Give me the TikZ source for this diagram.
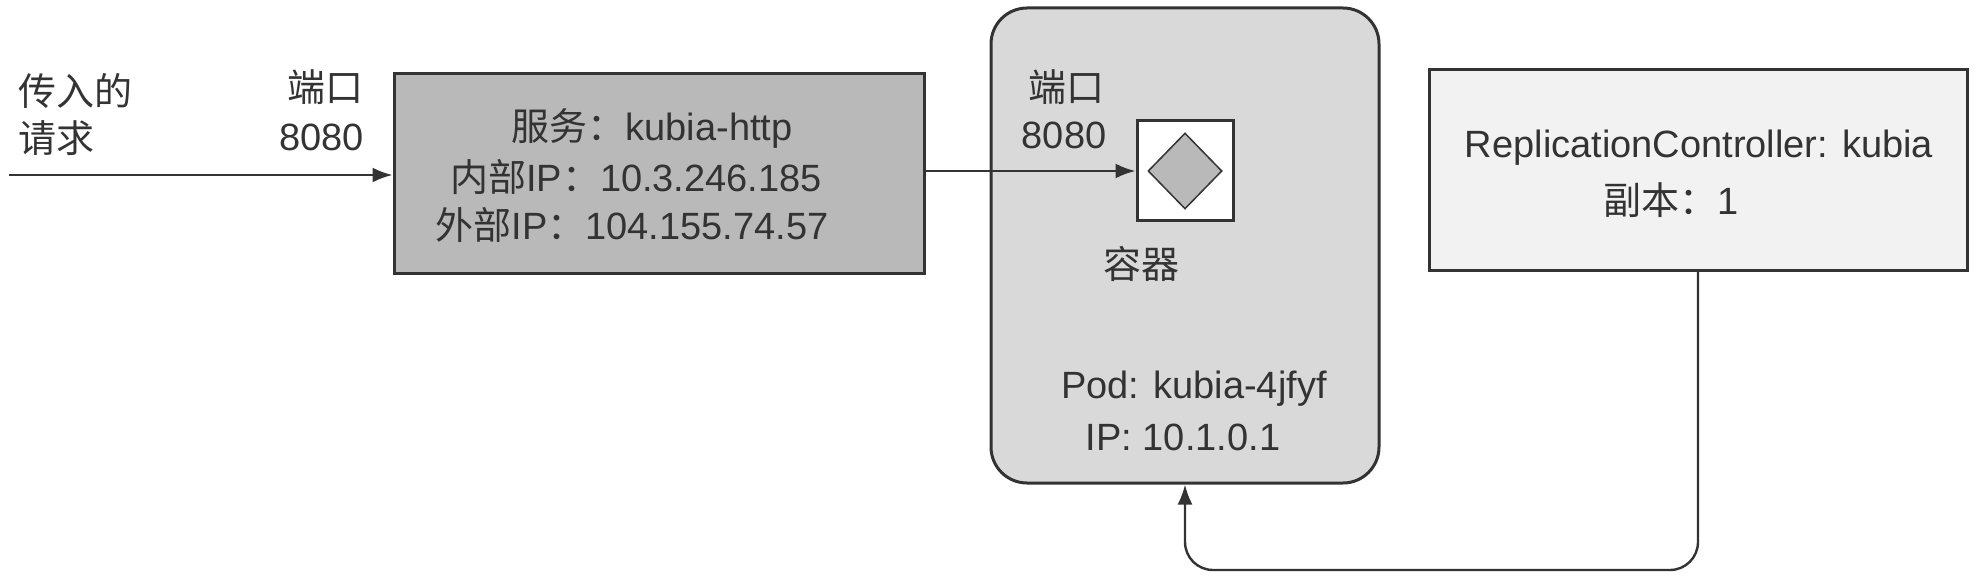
\documentclass[tikz,border=0pt]{standalone}
\usepackage{fontspec}
\setmainfont{Liberation Sans}
\newfontfamily\cjk{Noto Sans CJK SC}
\usetikzlibrary{arrows.meta,shapes.geometric}
\definecolor{inkgray}{HTML}{333333}
\tikzset{
  boxnode/.style={draw=inkgray, line width=3pt, minimum width=#1, inner sep=0pt},
  labelnode/.style={text=inkgray, inner sep=0pt, font=\fontsize{38}{42}\selectfont},
  flow/.style={draw=inkgray, line width=2.4pt, -{Latex[length=20pt,width=15pt]}}
}
\begin{document}
\begin{tikzpicture}[x=1pt, y=-1pt]
  \useasboundingbox (0,0) rectangle (1978,580);

  % Draw the boxes
  \node[boxnode=530pt, fill=gray!55, minimum height=199pt] (service) at (659,173.5) {};
  \node[boxnode=388pt, fill=gray!30, minimum height=475pt, rounded corners=36pt] (pod) at (1185,245.5) {};
  \node[boxnode=538pt, fill=gray!10, minimum height=200pt] (controller) at (1698,170) {};
  \node[boxnode=96pt, fill=white, minimum height=100pt] (container) at (1185,171) {};
  \node[diamond, aspect=1, draw=inkgray, line width=1.5pt, fill=gray!55, minimum width=74pt, minimum height=76pt, inner sep=0pt] (image) at (1185,171) {};

  % Texts outside the boxes
  \node[labelnode, anchor=west] (incoming1) at (18,91) {\cjk 传入的};
  \node[labelnode, anchor=west] (incoming2) at (18,138) {\cjk 请求};
  \node[labelnode, anchor=east] (svcport1) at (364,87) {\cjk 端口};
  \node[labelnode, anchor=east] (svcport2) at (364,137) {8080};

  % Texts of the service
  \node[labelnode] (service1) at (652,128) {{\cjk 服务：}kubia-http};
  \node[labelnode] (service2) at (636,177) {{\cjk 内部}IP{\cjk ：}10.3.246.185};
  \node[labelnode] (service3) at (632,225) {{\cjk 外部}IP{\cjk ：}104.155.74.57};

  % Texts of the pod
  \node[labelnode] (podport1) at (1066,87) {\cjk 端口};
  \node[labelnode] (podport2) at (1064,135) {8080};
  \node[labelnode] (containerlabel) at (1141,264) {\cjk 容器};
  \node[labelnode] (pod1) at (1194,389) {Pod: kubia-4jfyf};
  \node[labelnode] (pod2) at (1183,437) {IP: 10.1.0.1};

  % Texts of the controller
  \node[labelnode] (controller1) at (1699,148) {ReplicationController: kubia};
  \node[labelnode] (controller2) at (1671,200) {{\cjk 副本：}1};

  % Draw the arrows
  \coordinate (start) at (9,175);
  \coordinate (bottom) at (1440,570);
  \draw[flow] (start) -- (start -| service.west);
  \draw[flow] (container.west -| service.east) -- (container.west);
  \draw[flow, rounded corners=28pt] (controller.south) -- (controller.south |- bottom)
    -- (pod.south |- bottom) -- (pod.south);
\end{tikzpicture}
\end{document}
